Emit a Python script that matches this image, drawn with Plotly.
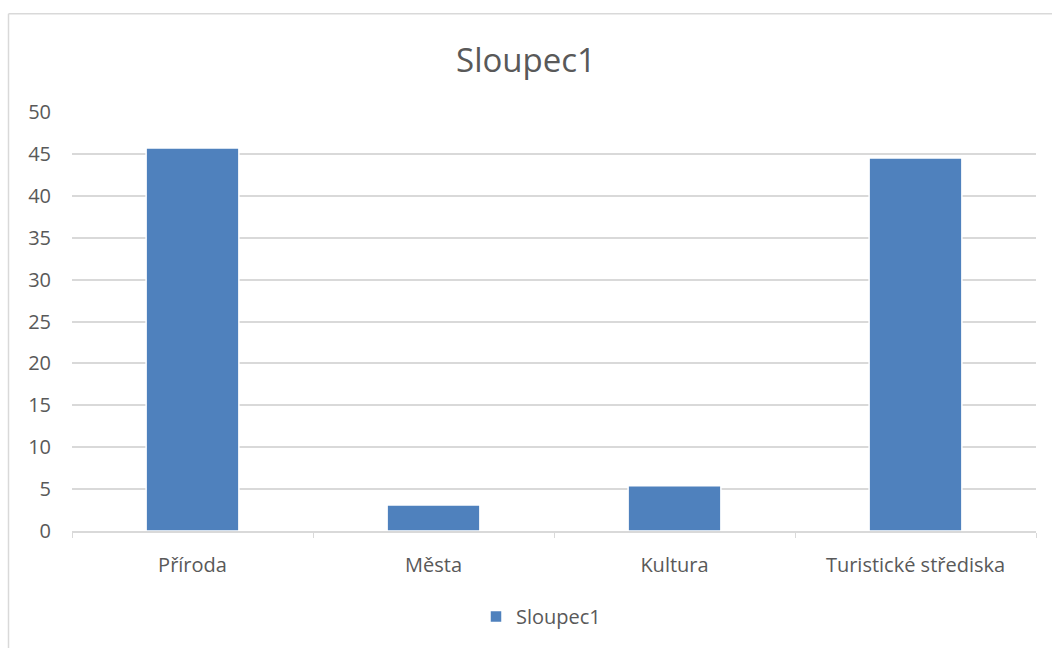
import plotly.graph_objects as go

categories = ["Příroda", "Města", "Kultura", "Turistické střediska"]
values = [45.7, 3.1, 5.4, 44.5]
series_name = "Sloupec1"
y_ticks = [0, 5, 10, 15, 20, 25, 30, 35, 40, 45, 50]

W, H = 1052, 648
L, R, T, B = 72, 16, 112, 114
FONT = "'Open Sans', 'Noto Sans', sans-serif"
GRAY = "#595959"

def px_x(px):
    return (px - L) / (W - L - R)

def px_y(py):
    return (H - B - py) / (H - T - B)

fig = go.Figure()
fig.add_trace(go.Bar(
    x=categories, y=values, name=series_name,
    marker=dict(color="#4f81bd", line=dict(color="white", width=1.5)),
    showlegend=True,
))

fig.update_layout(
    width=W, height=H,
    margin=dict(l=L, r=R, t=T, b=B),
    paper_bgcolor="white", plot_bgcolor="white",
    bargap=0.615,
    font=dict(family=FONT, color=GRAY, size=20),
    title=dict(text="Sloupec1", x=0.5, xanchor="center", y=1 - 60 / H, yanchor="middle",
               font=dict(size=33, color=GRAY, family=FONT)),
    showlegend=True,
    legend=dict(orientation="h", x=px_x(541 + 16 - 16), xanchor="center", y=px_y(620), yanchor="middle",
                font=dict(size=20, color=GRAY, family=FONT)),
    xaxis=dict(
        showgrid=False, showline=True, linecolor="#d9d9d9", linewidth=1.5,
        ticks="outside", tickson="boundaries", ticklen=5, tickcolor="#d9d9d9",
        tickfont=dict(size=20, color=GRAY), zeroline=False, fixedrange=True,
        ticklabelstandoff=15,
    ),
    yaxis=dict(
        range=[0, 50], tickvals=y_ticks, showgrid=True, gridcolor="#d9d9d9", gridwidth=1.5,
        zeroline=False, showline=False, ticks="", tickfont=dict(size=20, color=GRAY),
        ticklabelstandoff=20, fixedrange=True,
    ),
    shapes=[
        dict(type="line", xref="paper", yref="paper", x0=px_x(8.5), x1=px_x(8.5),
             y0=px_y(13), y1=px_y(700), line=dict(color="#d9d9d9", width=1.5)),
        dict(type="line", xref="paper", yref="paper", x0=px_x(8.5), x1=px_x(1100),
             y0=px_y(13), y1=px_y(13), line=dict(color="#d9d9d9", width=1.5)),
    ],
)

fig.write_html("out.html", post_script="document.body.style.margin='0px';",
               config={"displayModeBar": False})
